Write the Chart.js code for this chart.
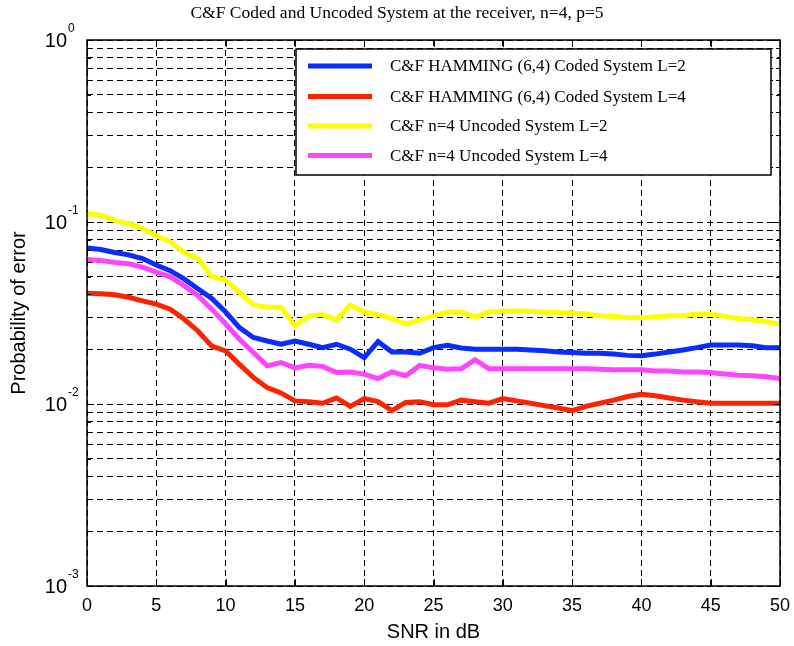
<!DOCTYPE html>
<html>
<head>
<meta charset="utf-8">
<script src="https://cdn.jsdelivr.net/npm/chart.js@4.4.0/dist/chart.umd.min.js"></script>
<style>
  html, body { margin: 0; padding: 0; background: #fff; }
  canvas { display: block; }
</style>
</head>
<body>
<canvas id="c" width="794" height="646"></canvas>
<script>
// SNR points (dB)
const snrDb = [0, 1, 2, 3, 4, 5, 6, 7, 8, 9, 10, 11, 12, 13, 14, 15, 16, 17, 18, 19, 20,
  21, 22, 23, 24, 25, 26, 27, 28, 29, 30, 31, 32, 33, 34, 35, 36, 37, 38, 39, 40,
  41, 42, 43, 44, 45, 46, 47, 48, 49, 50];

// Probability of error, C&F HAMMING (6,4) coded, L=2
const codedL2 = [0.072, 0.0706, 0.068, 0.066, 0.063, 0.058, 0.054, 0.0487, 0.043, 0.038, 0.032,
  0.0263, 0.0232, 0.0222, 0.0213, 0.0222, 0.0213, 0.0204, 0.0213, 0.0200, 0.0180,
  0.0220, 0.0193, 0.0193, 0.0190, 0.0204, 0.0210, 0.0203, 0.0200, 0.0200, 0.0200,
  0.0200, 0.0198, 0.0196, 0.0193, 0.0192, 0.0190, 0.0190, 0.0188, 0.0185, 0.0184,
  0.0188, 0.0193, 0.0198, 0.0204, 0.0211, 0.0211, 0.0211, 0.0209, 0.0204, 0.0204];

// C&F HAMMING (6,4) coded, L=4
const codedL4 = [0.0406, 0.0404, 0.0398, 0.0386, 0.0369, 0.0354, 0.0332, 0.0293, 0.0252, 0.0208, 0.0196,
  0.0165, 0.0140, 0.0123, 0.0115, 0.0104, 0.0103, 0.0101, 0.0108, 0.0097, 0.0107,
  0.0103, 0.0092, 0.0102, 0.0103, 0.0099, 0.0099, 0.0105, 0.0103, 0.0101, 0.0107,
  0.0104, 0.0101, 0.0098, 0.0095, 0.0092, 0.0097, 0.0101, 0.0105, 0.0110, 0.0113,
  0.0111, 0.0108, 0.0105, 0.0103, 0.0101, 0.0101, 0.0101, 0.0101, 0.0101, 0.0101];

// C&F n=4 uncoded, L=2
const uncodedL2 = [0.111, 0.109, 0.102, 0.098, 0.092, 0.084, 0.078, 0.068, 0.063, 0.050, 0.048,
  0.041, 0.035, 0.034, 0.034, 0.027, 0.0305, 0.031, 0.029, 0.035, 0.032,
  0.031, 0.0295, 0.0275, 0.029, 0.0305, 0.032, 0.032, 0.030, 0.032, 0.0324,
  0.0324, 0.0323, 0.0319, 0.0319, 0.0316, 0.0312, 0.0305, 0.0303, 0.0299, 0.0298,
  0.0302, 0.0305, 0.0305, 0.0312, 0.0312, 0.0303, 0.0295, 0.0290, 0.0283, 0.0275];

// C&F n=4 uncoded, L=4
const uncodedL4 = [0.0622, 0.0615, 0.060, 0.059, 0.0565, 0.053, 0.050, 0.0447, 0.0394, 0.0332, 0.0275,
  0.0227, 0.0192, 0.0162, 0.0169, 0.0158, 0.0163, 0.0161, 0.0149, 0.0150, 0.0146,
  0.0138, 0.0150, 0.0143, 0.0163, 0.0158, 0.0155, 0.0156, 0.0175, 0.0156, 0.0156,
  0.0156, 0.0156, 0.0156, 0.0156, 0.0156, 0.0156, 0.0155, 0.0154, 0.0154, 0.0154,
  0.0152, 0.0152, 0.0150, 0.0150, 0.0149, 0.0146, 0.0144, 0.0143, 0.0141, 0.0138];

const seriesLabels = [
  'C&F HAMMING (6,4) Coded System L=2',
  'C&F HAMMING (6,4) Coded System L=4',
  'C&F n=4 Uncoded System L=2',
  'C&F n=4 Uncoded System L=4'
];
const seriesColors = ['#0a2cff', '#ff2200', '#ffff00', '#ff44ff'];

const xTickValues = [0, 5, 10, 15, 20, 25, 30, 35, 40, 45, 50];
const yTickValues = [0.001, 0.002, 0.003, 0.004, 0.005, 0.006, 0.007, 0.008, 0.009,
  0.01, 0.02, 0.03, 0.04, 0.05, 0.06, 0.07, 0.08, 0.09,
  0.1, 0.2, 0.3, 0.4, 0.5, 0.6, 0.7, 0.8, 0.9, 1];

const titleText = 'C&F Coded and Uncoded System at the receiver, n=4, p=5';
const xTitle = 'SNR in dB';
const yTitle = 'Probability of error';

const SANS = '"Liberation Sans", Arial, sans-serif';
const SERIF = '"Liberation Serif", "Times New Roman", serif';

const toPoints = arr => arr.map((v, i) => ({ x: snrDb[i], y: v }));
const allSeries = [codedL2, codedL4, uncodedL2, uncodedL4];

const isDecade = v => Math.abs(Math.log10(v) - Math.round(Math.log10(v))) < 1e-9;

// Axes box, inward ticks, legend, decade labels and titles
const decorations = {
  id: 'decorations',
  afterDatasetsDraw(chart) {
    const { ctx, chartArea: a, scales: { x, y } } = chart;
    ctx.save();
    ctx.strokeStyle = '#000';
    ctx.lineWidth = 1;
    ctx.setLineDash([]);
    ctx.beginPath();
    xTickValues.forEach(v => {
      const px = Math.round(x.getPixelForValue(v)) + 0.5;
      ctx.moveTo(px, a.bottom); ctx.lineTo(px, a.bottom - 7);
      ctx.moveTo(px, a.top); ctx.lineTo(px, a.top + 7);
    });
    yTickValues.forEach(v => {
      const py = Math.round(y.getPixelForValue(v)) + 0.5;
      const len = isDecade(v) ? 7 : 4;
      ctx.moveTo(a.left, py); ctx.lineTo(a.left + len, py);
      ctx.moveTo(a.right, py); ctx.lineTo(a.right - len, py);
    });
    ctx.stroke();
    ctx.lineWidth = 1.5;
    ctx.strokeRect(a.left, a.top, a.right - a.left, a.bottom - a.top);

    // legend box
    const lx = 296, ly = 49, lw = 475, lh = 126;
    ctx.fillStyle = '#fff';
    ctx.fillRect(lx, ly, lw, lh);
    ctx.lineWidth = 1.5;
    ctx.strokeRect(lx, ly, lw, lh);
    const rows = [66, 96.5, 126, 155.5];
    chart.data.datasets.forEach((ds, i) => {
      ctx.strokeStyle = ds.borderColor;
      ctx.lineWidth = 5;
      ctx.beginPath();
      ctx.moveTo(308, rows[i]); ctx.lineTo(372, rows[i]);
      ctx.stroke();
      ctx.fillStyle = '#000';
      ctx.font = '17px ' + SERIF;
      ctx.textAlign = 'left';
      ctx.textBaseline = 'middle';
      ctx.fillText(ds.label, 390, rows[i] + 1);
    });
    ctx.restore();
  },
  afterDraw(chart) {
    const { ctx, chartArea: a, scales: { y } } = chart;
    ctx.save();
    ctx.fillStyle = '#000';
    // decade labels with superscript exponents
    yTickValues.filter(isDecade).forEach(v => {
      const py = y.getPixelForValue(v);
      const exp = Math.round(Math.log10(v));
      ctx.font = '20px ' + SANS;
      ctx.textAlign = 'right';
      ctx.textBaseline = 'middle';
      ctx.fillText('10', 67, py + 1);
      ctx.font = '12px ' + SANS;
      ctx.textAlign = 'left';
      ctx.fillText(exp === 0 ? '0' : '-' + Math.abs(exp), 68, py - 11);
    });
    // title
    ctx.font = '17.5px ' + SERIF;
    ctx.textAlign = 'center';
    ctx.textBaseline = 'middle';
    ctx.fillText(titleText, chart.width / 2, 13);
    // axis titles
    ctx.font = '20px ' + SANS;
    ctx.fillText(xTitle, (a.left + a.right) / 2, 632);
    ctx.translate(19, (a.top + a.bottom) / 2);
    ctx.rotate(-Math.PI / 2);
    ctx.fillText(yTitle, 0, 0);
    ctx.restore();
  }
};

new Chart(document.getElementById('c'), {
  type: 'line',
  data: {
    datasets: allSeries.map((s, i) => ({
      label: seriesLabels[i],
      data: toPoints(s),
      borderColor: seriesColors[i],
      backgroundColor: seriesColors[i],
      borderWidth: 5,
      pointRadius: 0,
      tension: 0,
      fill: false,
      order: 4 - i
    }))
  },
  options: {
    responsive: false,
    animation: false,
    devicePixelRatio: 1,
    layout: { padding: { left: 0, right: 14, top: 40, bottom: 0 } },
    plugins: { legend: { display: false }, tooltip: { enabled: false }, title: { display: false } },
    scales: {
      x: {
        type: 'linear',
        min: 0, max: 50,
        afterBuildTicks: s => { s.ticks = xTickValues.map(v => ({ value: v })); },
        afterFit: s => { s.height = 60; s.paddingLeft = 0; s.paddingRight = 0; },
        ticks: { color: '#000', font: { family: SANS, size: 18 }, padding: 9, maxRotation: 0, autoSkip: false },
        grid: { color: '#000', lineWidth: 1, drawTicks: false },
        border: { display: false, dash: [6, 4] }
      },
      y: {
        type: 'logarithmic',
        min: 0.001, max: 1,
        afterBuildTicks: s => { s.ticks = yTickValues.map(v => ({ value: v })); },
        afterFit: s => { s.width = 87; s.paddingTop = 0; s.paddingBottom = 0; },
        ticks: { display: false },
        grid: { color: '#000', lineWidth: 1, drawTicks: false },
        border: { display: false, dash: [6, 4] }
      }
    }
  },
  plugins: [decorations]
});
</script>
</body>
</html>
